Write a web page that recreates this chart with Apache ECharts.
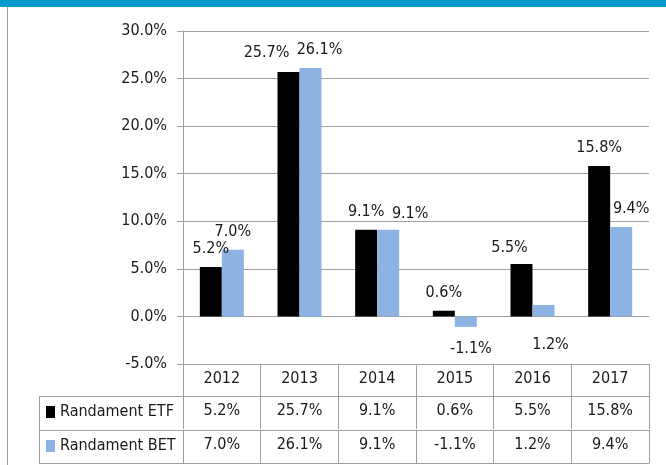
<!DOCTYPE html>
<html>
<head>
<meta charset="utf-8">
<script src="https://cdn.jsdelivr.net/npm/echarts@6/dist/echarts.min.js"></script>
<style>
  html, body { margin: 0; padding: 0; background: #fff; }
  #container { width: 666px; height: 465px; }
</style>
</head>
<body>
<div id="container"></div>
<script>
var years = ['2012', '2013', '2014', '2015', '2016', '2017'];
var etfValues = [5.2, 25.7, 9.1, 0.6, 5.5, 15.8];
var betValues = [7.0, 26.1, 9.1, -1.1, 1.2, 9.4];
var seriesNames = ['Randament ETF', 'Randament BET'];

var GRAY = '#a0a0a0';
var TEXT = '#1a1a1a';

// pick a narrow-ish font that is really installed, and size it so "25.7%" is ~46px wide
var cv = document.createElement('canvas').getContext('2d');
function hasFont(name) {
    var ok = true;
    ['monospace', 'serif'].forEach(function (fb) {
        cv.font = '40px ' + fb;
        var a = cv.measureText('Randament 25.7%').width;
        cv.font = "40px '" + name + "', " + fb;
        var b = cv.measureText('Randament 25.7%').width;
        if (a == b) ok = false;
    });
    return ok;
}
var fontList = ['Liberation Sans Narrow', 'DejaVu Sans Condensed', 'Roboto Condensed', 'Roboto', 'Liberation Sans'];
var FONT_NAME = 'sans-serif';
for (var f = 0; f < fontList.length; f++) {
    if (hasFont(fontList[f])) { FONT_NAME = fontList[f]; break; }
}
var FONT = "'" + FONT_NAME + "', sans-serif";
cv.font = '100px ' + FONT;
var FS = Math.round(46 / cv.measureText('25.7%').width * 100 * 2) / 2;

function pct(v) {
    return v.toFixed(1) + '%';
}

// label placement like the original (position, distance, x shift) - excel moved some to avoid overlaps
var etfLabelTweak = { 1: ['top', 11, -22], 4: ['top', 8, -12] };
var betLabelTweak = { 1: ['top', 10, 9], 2: ['top', 8, 22], 3: ['bottom', 14, 5], 4: ['bottom', 20, 7], 5: ['top', 10, 10] };

function buildData(values, tweak) {
    var out = [];
    for (var i = 0; i < values.length; i++) {
        var item = { value: values[i] };
        if (tweak && tweak[i]) {
            item.label = { position: tweak[i][0], distance: tweak[i][1], offset: [tweak[i][2], 0] };
        }
        out.push(item);
    }
    return out;
}

function tableAxis(offset, values, showTick) {
    return {
        type: 'category',
        gridIndex: 0,
        position: 'bottom',
        offset: offset,
        data: years,
        axisLine: { onZero: false, lineStyle: { color: GRAY, width: 1 } },
        axisTick: { show: showTick, interval: 0, length: 33, lineStyle: { color: GRAY } },
        axisLabel: {
            show: !!values,
            interval: 0,
            margin: 7,
            fontFamily: FONT,
            fontSize: FS,
            color: TEXT,
            formatter: function (v, idx) { return values ? pct(values[idx]) : ''; }
        }
    };
}

var myChart = echarts.init(document.getElementById('container'));

var option = {
    animation: false,
    textStyle: { fontFamily: FONT },
    grid: { left: 183, right: 17, top: 31, bottom: 101, containLabel: false },
    legend: {
        orient: 'vertical',
        left: 46,
        top: 401,
        height: 64,
        padding: 0,
        itemWidth: 9,
        itemHeight: 12,
        itemGap: 12,
        selectedMode: false,
        icon: 'rect',
        data: seriesNames,
        textStyle: { fontFamily: FONT, fontSize: FS, color: TEXT, lineHeight: 22 }
    },
    xAxis: [
        {
            type: 'category',
            gridIndex: 0,
            position: 'bottom',
            data: years,
            axisLine: { onZero: false, lineStyle: { color: GRAY } },
            axisTick: { show: true, interval: 0, length: 32, lineStyle: { color: GRAY } },
            axisLabel: { interval: 0, margin: 7, fontFamily: FONT, fontSize: FS, color: TEXT }
        },
        tableAxis(32, etfValues, true),
        tableAxis(66, betValues, true),
        tableAxis(99, null, false)
    ],
    yAxis: {
        type: 'value',
        min: -5,
        max: 30,
        interval: 5,
        axisLine: { show: true, lineStyle: { color: GRAY } },
        axisTick: { show: true, length: 6, lineStyle: { color: GRAY } },
        splitLine: { show: true, lineStyle: { color: GRAY } },
        axisLabel: {
            margin: 16,
            fontFamily: FONT,
            fontSize: FS,
            color: TEXT,
            formatter: function (v) { return pct(v); }
        }
    },
    series: [
        {
            name: seriesNames[0],
            type: 'bar',
            xAxisIndex: 0,
            barWidth: 22,
            barGap: '0%',
            itemStyle: { color: '#000000' },
            label: {
                show: true, position: 'top', distance: 10,
                fontFamily: FONT, fontSize: FS, color: TEXT,
                formatter: function (p) { return pct(p.value); }
            },
            data: buildData(etfValues, etfLabelTweak)
        },
        {
            name: seriesNames[1],
            type: 'bar',
            xAxisIndex: 0,
            barWidth: 22,
            barGap: '0%',
            itemStyle: { color: '#8db3e2' },
            label: {
                show: true, position: 'top', distance: 10,
                fontFamily: FONT, fontSize: FS, color: TEXT,
                formatter: function (p) { return pct(p.value); }
            },
            data: buildData(betValues, betLabelTweak)
        }
    ],
    graphic: [
        { type: 'rect', shape: { x: 0, y: 0, width: 666, height: 7 }, style: { fill: '#0099cc' } },
        { type: 'line', shape: { x1: 7.5, y1: 7, x2: 7.5, y2: 465 }, style: { stroke: GRAY, lineWidth: 1 } },
        { type: 'line', shape: { x1: 39.5, y1: 396, x2: 39.5, y2: 463 }, style: { stroke: GRAY, lineWidth: 1 } },
        { type: 'line', shape: { x1: 39, y1: 396.5, x2: 183, y2: 396.5 }, style: { stroke: GRAY, lineWidth: 1 } },
        { type: 'line', shape: { x1: 39, y1: 430.5, x2: 183, y2: 430.5 }, style: { stroke: GRAY, lineWidth: 1 } },
        { type: 'line', shape: { x1: 39, y1: 463.5, x2: 183, y2: 463.5 }, style: { stroke: GRAY, lineWidth: 1 } }
    ]
};

myChart.setOption(option, true);
</script>
</body>
</html>
